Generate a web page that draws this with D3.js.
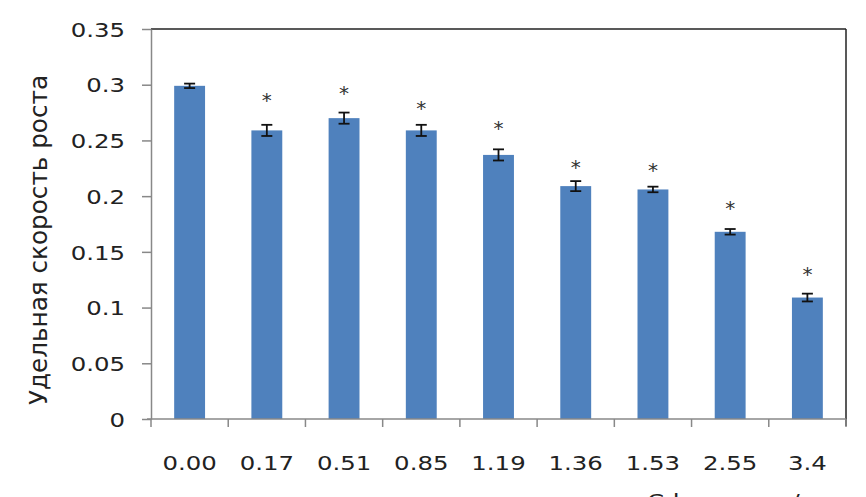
<!DOCTYPE html>
<html>
<head>
<meta charset="utf-8">
<script src="https://cdn.jsdelivr.net/npm/d3@7"></script>
<style>
  html, body { margin: 0; padding: 0; background: #fff; }
  svg { display: block; }
  text { font-family: "DejaVu Sans", Verdana, sans-serif; }
</style>
</head>
<body>
<svg id="chart" width="866" height="497"></svg>
<script>
// ---- data ----
const categories = ["0.00", "0.17", "0.51", "0.85", "1.19", "1.36", "1.53", "2.55", "3.4"];
const values     = [0.299, 0.259, 0.270, 0.259, 0.237, 0.209, 0.206, 0.168, 0.109];
const errors     = [0.002, 0.005, 0.005, 0.005, 0.005, 0.0045, 0.0025, 0.0025, 0.0035];
const significant = [false, true, true, true, true, true, true, true, true];
const markerLevels = [null, 0.291, 0.297, 0.284, 0.266, 0.231, 0.228, 0.194, 0.135];
const yTicks = [0, 0.05, 0.1, 0.15, 0.2, 0.25, 0.3, 0.35];
const yTickLabels = ["0", "0.05", "0.1", "0.15", "0.2", "0.25", "0.3", "0.35"];
const yTitle = "Удельная скорость роста";
const xTitle = "Cd, мкмоль/л";

// ---- layout ----
const svg = d3.select("#chart");
const mLeft = 151, mRight = 846, mTop = 29, mBottom = 419;
const stretch = 1.22;
const barColor = "#4F81BD";

const x = d3.scaleBand().domain(categories).range([mLeft, mRight]).padding(0);
const y = d3.scaleLinear().domain([0, 0.35]).range([mBottom, mTop]);
const barW = x.step() * 0.4;

function stretchText(sel, k) {
  sel.each(function() {
    const len = this.getComputedTextLength();
    d3.select(this).attr("textLength", len * k).attr("lengthAdjust", "spacingAndGlyphs");
  });
}

// plot box (top & right)
svg.append("line").attr("x1", mLeft).attr("x2", mRight).attr("y1", mTop).attr("y2", mTop)
  .attr("stroke", "#222").attr("stroke-width", 1.5);
svg.append("line").attr("x1", mRight).attr("x2", mRight).attr("y1", mTop).attr("y2", mBottom + 7)
  .attr("stroke", "#222").attr("stroke-width", 1.5);

// bars
svg.append("g").selectAll("rect").data(values).join("rect")
  .attr("x", (d, i) => x(categories[i]) + x.step() / 2 - barW / 2)
  .attr("y", d => y(d))
  .attr("width", barW)
  .attr("height", d => y(0) - y(d))
  .attr("fill", barColor);

// error bars
const eg = svg.append("g").attr("stroke", "#111").attr("stroke-width", 1.8);
values.forEach((v, i) => {
  const cx = x(categories[i]) + x.step() / 2;
  const y1 = y(v + errors[i]), y2 = y(v - errors[i]);
  eg.append("line").attr("x1", cx).attr("x2", cx).attr("y1", y1).attr("y2", y2);
  eg.append("line").attr("x1", cx - 5.5).attr("x2", cx + 5.5).attr("y1", y1).attr("y2", y1);
  eg.append("line").attr("x1", cx - 5.5).attr("x2", cx + 5.5).attr("y1", y2).attr("y2", y2);
});

// significance asterisks
svg.append("g").selectAll("text").data(categories.filter((c, i) => significant[i]))
  .join("text")
  .attr("x", c => x(c) + x.step() / 2)
  .attr("y", c => y(markerLevels[categories.indexOf(c)]) + 12)
  .attr("text-anchor", "middle")
  .attr("font-size", 20)
  .attr("fill", "#333")
  .text("*");

// y axis
const yAxis = svg.append("g").attr("transform", `translate(${mLeft},0)`)
  .call(d3.axisLeft(y).tickValues(yTicks).tickFormat((d, i) => yTickLabels[i]).tickSize(9).tickPadding(17).tickSizeOuter(0));
yAxis.select(".domain").attr("stroke", "#888").attr("stroke-width", 1.5);
yAxis.selectAll(".tick line").attr("stroke", "#888").attr("stroke-width", 1.5);
yAxis.selectAll(".tick text").attr("font-size", 20).attr("fill", "#222")
  .attr("font-family", "DejaVu Sans").attr("dy", "0.36em");
stretchText(yAxis.selectAll(".tick text"), stretch);

// x axis line and boundary ticks
svg.append("line").attr("x1", mLeft - 4).attr("x2", mRight).attr("y1", mBottom).attr("y2", mBottom)
  .attr("stroke", "#888").attr("stroke-width", 1.5);
const bounds = categories.map(c => x(c)).concat([mRight]);
svg.append("g").selectAll("line").data(bounds).join("line")
  .attr("x1", d => d).attr("x2", d => d).attr("y1", mBottom).attr("y2", mBottom + 8)
  .attr("stroke", "#888").attr("stroke-width", 1.5);

const xLabels = svg.append("g").selectAll("text").data(categories).join("text")
  .attr("x", c => x(c) + x.step() / 2)
  .attr("y", 470)
  .attr("text-anchor", "middle")
  .attr("font-size", 20)
  .attr("fill", "#222")
  .text(c => c);
stretchText(xLabels, stretch);

// x title (cut off at bottom edge, as in the reference)
const xt = svg.append("text").attr("x", 647).attr("y", 508).attr("font-size", 20)
  .attr("fill", "#222").text(xTitle);
stretchText(xt, stretch);

// y title
svg.append("text")
  .attr("transform", "translate(47,240) rotate(-90) scale(1,1.22)")
  .attr("text-anchor", "middle")
  .attr("font-size", 20)
  .attr("fill", "#222")
  .attr("textLength", 330)
  .attr("lengthAdjust", "spacingAndGlyphs")
  .text(yTitle);
</script>
</body>
</html>
